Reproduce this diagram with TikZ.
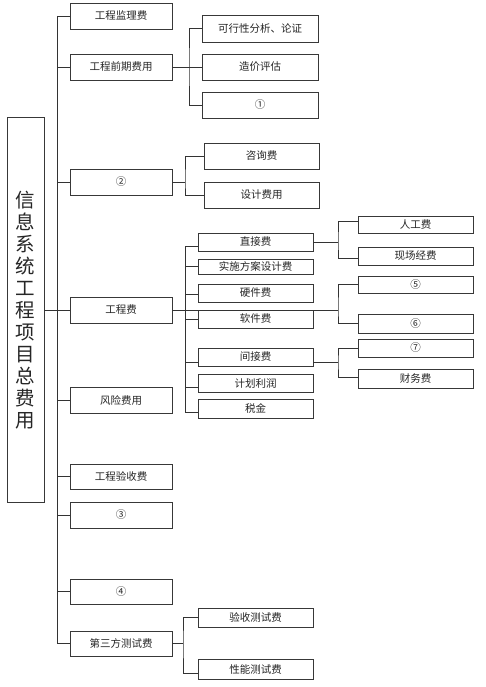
\documentclass[tikz,border=0pt]{standalone}
\usepackage{fontspec}
\newfontfamily\cjk{Noto Sans CJK SC}
\begin{document}
\begin{tikzpicture}[x=1pt,y=-1pt,
  box/.style={draw=black!78, line width=0.9pt, fill=white, inner sep=0pt,
    font=\cjk\fontsize{10.5}{12}\selectfont, text=black!85},
  ln/.style={draw=black!80, line width=0.8pt}]
\useasboundingbox (0,0) rectangle (485,687);
% root
\node[box, minimum width=37pt, minimum height=385pt, align=center,
  font=\cjk\fontsize{19.5}{22}\selectfont] (R) at (25.5,310)
  {信\\息\\系\\统\\工\\程\\项\\目\\总\\费\\用};
% level 1
\node[box, minimum width=102pt, minimum height=26pt] (A1) at (121,16) {工程监理费};
\node[box, minimum width=102pt, minimum height=26pt] (A2) at (121,67) {工程前期费用};
\node[box, minimum width=102pt, minimum height=26pt] (A3) at (121,182) {②};
\node[box, minimum width=102pt, minimum height=26pt] (A4) at (121,310) {工程费};
\node[box, minimum width=102pt, minimum height=26pt] (A5) at (121,400) {风险费用};
\node[box, minimum width=102pt, minimum height=25pt] (A6) at (121,476.5) {工程验收费};
\node[box, minimum width=102pt, minimum height=26pt] (A7) at (121,515) {③};
\node[box, minimum width=102pt, minimum height=25pt] (A8) at (121,591.5) {④};
\node[box, minimum width=102pt, minimum height=25pt] (A9) at (121,643.5) {第三方测试费};
% level 2 under A2
\node[box, minimum width=116pt, minimum height=27pt] (B1) at (260,28.5) {可行性分析、论证};
\node[box, minimum width=116pt, minimum height=26pt] (B2) at (260,67) {造价评估};
\node[box, minimum width=116pt, minimum height=26pt] (B3) at (260,105) {①};
% under A3
\node[box, minimum width=115pt, minimum height=26pt] (C1) at (261.5,156) {咨询费};
\node[box, minimum width=115pt, minimum height=26pt] (C2) at (261.5,195) {设计费用};
% under A4
\node[box, minimum width=115pt, minimum height=18pt] (D1) at (255.5,242) {直接费};
\node[box, minimum width=115pt, minimum height=15pt] (D2) at (255.5,266.5) {实施方案设计费};
\node[box, minimum width=115pt, minimum height=18pt] (D3) at (255.5,293) {硬件费};
\node[box, minimum width=115pt, minimum height=18pt] (D4) at (255.5,319) {软件费};
\node[box, minimum width=115pt, minimum height=18pt] (D5) at (255.5,357) {间接费};
\node[box, minimum width=115pt, minimum height=18pt] (D6) at (255.5,383) {计划利润};
\node[box, minimum width=115pt, minimum height=19pt] (D7) at (255.5,408.5) {税金};
% level 3
\node[box, minimum width=115pt, minimum height=17pt] (E1) at (415.5,224.5) {人工费};
\node[box, minimum width=115pt, minimum height=18pt] (E2) at (415.5,256) {现场经费};
\node[box, minimum width=115pt, minimum height=17pt] (E3) at (415.5,284.5) {⑤};
\node[box, minimum width=115pt, minimum height=19pt] (E4) at (415.5,323.5) {⑥};
\node[box, minimum width=115pt, minimum height=18pt] (E5) at (415.5,348) {⑦};
\node[box, minimum width=115pt, minimum height=19pt] (E6) at (415.5,378.5) {财务费};
% under A9
\node[box, minimum width=115pt, minimum height=19pt] (F1) at (255.5,617.5) {验收测试费};
\node[box, minimum width=115pt, minimum height=20pt] (F2) at (255.5,669) {性能测试费};

% trunk
\coordinate (tx) at (57.5,0);
\draw[ln] (A1.west -| tx) -- (A9.west -| tx);
\foreach \n in {A1,A2,A3,A5,A6,A7,A8,A9} \draw[ln] (\n.west) -- (\n.west -| tx);
\draw[ln] (R.east |- A4.west) -- (A4.west);
% A2 bracket
\coordinate (b2) at (189,67);
\draw[ln] (A2.east) -- (b2);
\draw[ln] (B1.west) -| (b2) |- (B3.west);
\draw[ln] (B2.west) -- (b2);
% A3 bracket
\coordinate (b3) at (185,182);
\draw[ln] (A3.east) -- (b3);
\draw[ln] (C1.west) -| (b3) |- (C2.west);
% A4 bracket
\coordinate (b4) at (185,310);
\coordinate (k) at (338,310);
\draw[ln] (A4.east) -- (k);
\coordinate (d1) at ([yshift=-4pt]D1.west);
\coordinate (d2) at (D2.west);
\coordinate (d3) at ([yshift=-1pt]D3.west);
\coordinate (d4) at (D4.west);
\coordinate (d5) at ([yshift=-5pt]D5.west);
\coordinate (d6) at ([yshift=-4pt]D6.west);
\coordinate (d7) at ([yshift=-3.5pt]D7.west);
\draw[ln] (d1 -| b4) -- (d7 -| b4);
\foreach \c in {d1,d2,d3,d4,d5,d6,d7} \draw[ln] (\c -| b4) -- (\c);
% D1 bracket
\coordinate (j1) at (338,242);
\coordinate (e1) at ([yshift=3.5pt]E1.west);
\coordinate (e2) at ([yshift=-2pt]E2.west);
\draw[ln] (D1.east) -- (j1);
\draw[ln] (e1) -| (j1) |- (e2);
% 5-6 bracket
\draw[ln] (E3.west) -| (k) |- (E4.west);
% D5 bracket
\coordinate (d5e) at ([yshift=-5pt]D5.east);
\coordinate (j5) at (338,362);
\coordinate (e6) at ([yshift=1.5pt]E6.west);
\draw[ln] (d5e) -- (j5);
\draw[ln] (E5.west) -| (j5) |- (e6);
% A9 bracket
\coordinate (b9) at (183,643.5);
\coordinate (f2) at ([yshift=-4pt]F2.west);
\draw[ln] (A9.east) -- (b9);
\draw[ln] (F1.west) -| (b9) |- (f2);
\end{tikzpicture}
\end{document}
